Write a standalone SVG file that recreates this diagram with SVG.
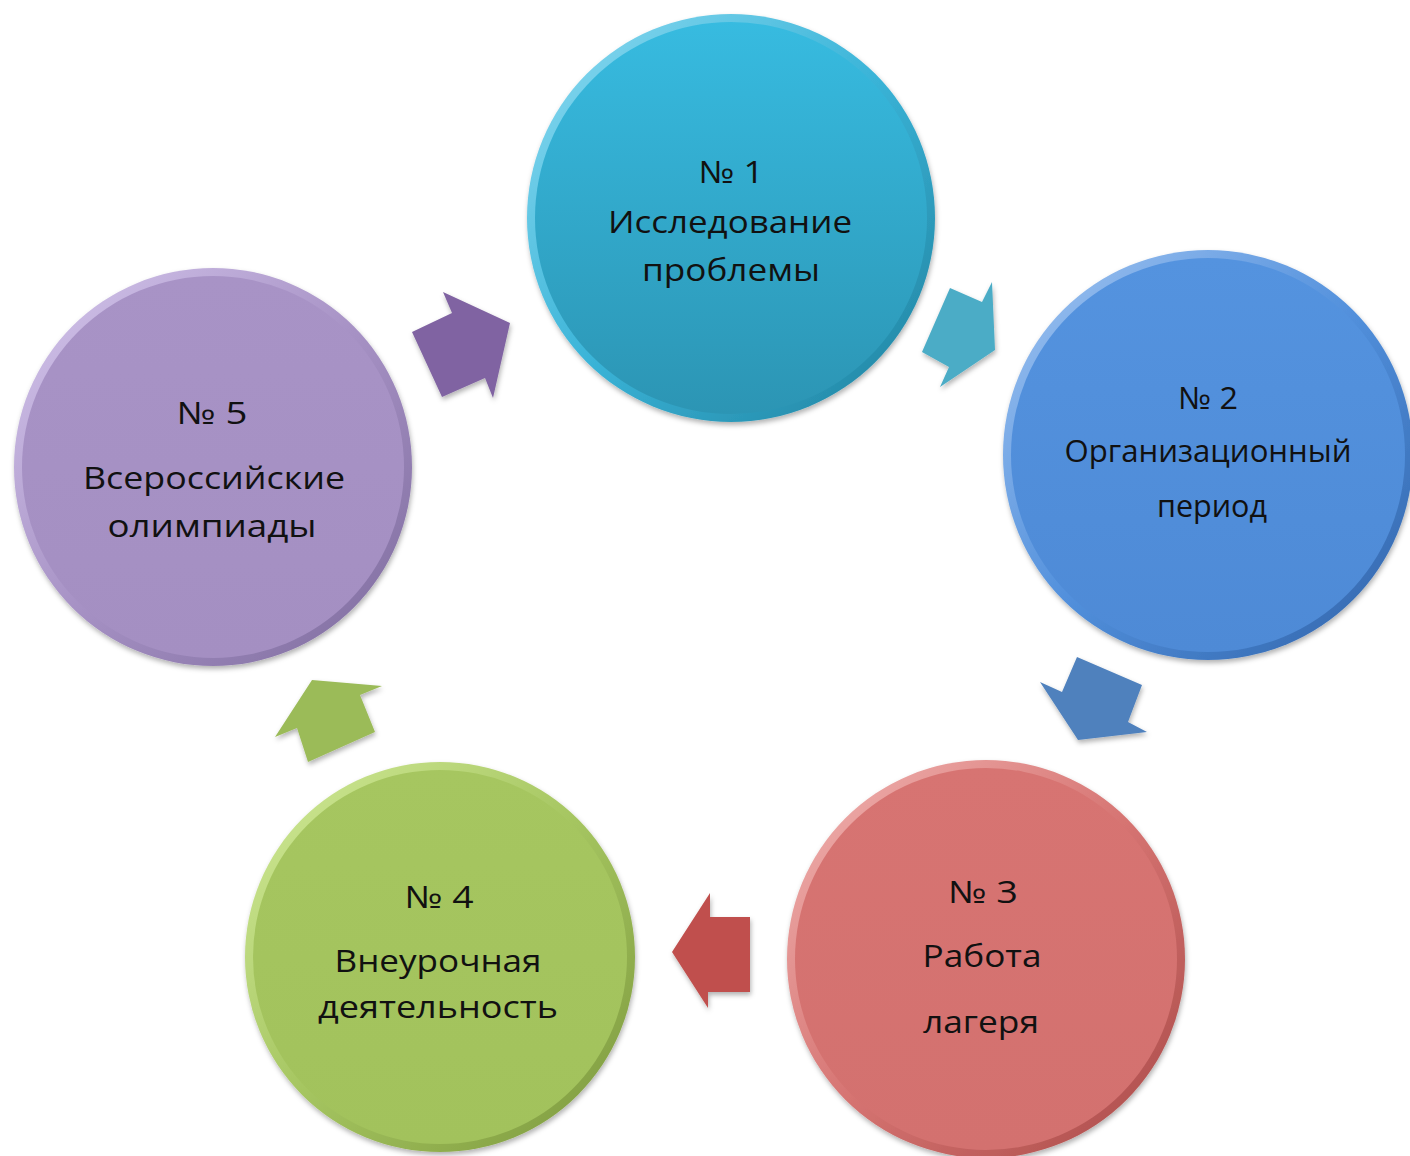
<svg xmlns="http://www.w3.org/2000/svg" width="1410" height="1156" viewBox="0 0 1410 1156">
<style>
.t{font-family:"Open Sans","Noto Sans","Liberation Sans",sans-serif;font-size:31px;fill:#111;text-anchor:middle}
.arr{filter:url(#sh)}
</style>
<defs>
<filter id="sh" x="-20%" y="-20%" width="140%" height="140%">
<feDropShadow dx="1" dy="3" stdDeviation="2.5" flood-color="#000" flood-opacity="0.3"/>
</filter>
<linearGradient id="r1" x1="0" y1="0" x2="1" y2="1"><stop offset="0" stop-color="#8fdcf2"/><stop offset="0.5" stop-color="#3ab4d8"/><stop offset="1" stop-color="#1f7f9c"/></linearGradient>
<linearGradient id="f1" x1="0" y1="0" x2="0" y2="1"><stop offset="0" stop-color="#37bbe0"/><stop offset="1" stop-color="#2c95b4"/></linearGradient>
<linearGradient id="r2" x1="0" y1="0" x2="1" y2="1"><stop offset="0" stop-color="#a3c6f2"/><stop offset="0.5" stop-color="#5290dc"/><stop offset="1" stop-color="#2f62a8"/></linearGradient>
<linearGradient id="f2" x1="0" y1="0" x2="0" y2="1"><stop offset="0" stop-color="#5493df"/><stop offset="1" stop-color="#4e8ad6"/></linearGradient>
<linearGradient id="r3" x1="0" y1="0" x2="1" y2="1"><stop offset="0" stop-color="#f2b6b4"/><stop offset="0.5" stop-color="#d67472"/><stop offset="1" stop-color="#a84946"/></linearGradient>
<linearGradient id="f3" x1="0" y1="0" x2="0" y2="1"><stop offset="0" stop-color="#d77472"/><stop offset="1" stop-color="#d3716f"/></linearGradient>
<linearGradient id="r4" x1="0" y1="0" x2="1" y2="1"><stop offset="0" stop-color="#d3ec9a"/><stop offset="0.5" stop-color="#a5c560"/><stop offset="1" stop-color="#7a963b"/></linearGradient>
<linearGradient id="f4" x1="0" y1="0" x2="0" y2="1"><stop offset="0" stop-color="#a6c660"/><stop offset="1" stop-color="#a2c25c"/></linearGradient>
<linearGradient id="r5" x1="0" y1="0" x2="1" y2="1"><stop offset="0" stop-color="#d6c8ee"/><stop offset="0.5" stop-color="#a792c5"/><stop offset="1" stop-color="#7c6a9c"/></linearGradient>
<linearGradient id="f5" x1="0" y1="0" x2="0" y2="1"><stop offset="0" stop-color="#a893c6"/><stop offset="1" stop-color="#a48fc2"/></linearGradient>
</defs>
<rect width="1410" height="1156" fill="#fff"/>

<g id="connectors">
<polygon class="arr" fill="#8064a2" points="412,332 452,313 443,292 510,323 493,398 485,378 442,397"/>
<polygon class="arr" fill="#4bacc6" points="922,352 950,288 982,302 992,282 995,350 940,387 949,367"/>
<polygon class="arr" fill="#4f81bd" points="1077,657 1142,685 1128,722 1147,732 1078,740 1040,682 1062,692"/>
<polygon class="arr" fill="#c0504d" points="750,917 710,917 710,893 672,952 708,1008 708,992 750,992"/>
<polygon class="arr" fill="#9bbb59" points="312,680 382,686 360,695 375,732 308,762 297,728 275,737"/>
</g>

<g id="node1">
<circle cx="731" cy="218" r="204" fill="url(#r1)" filter="url(#sh)"/>
<circle cx="731" cy="218" r="196" fill="url(#f1)"/>
<text class="t" x="731" y="183" textLength="65" lengthAdjust="spacingAndGlyphs">№ 1</text>
<text class="t" x="730" y="233" textLength="244" lengthAdjust="spacingAndGlyphs">Исследование</text>
<text class="t" x="731" y="281" textLength="178" lengthAdjust="spacingAndGlyphs">проблемы</text>
</g>

<g id="node2">
<circle cx="1208" cy="455" r="205" fill="url(#r2)" filter="url(#sh)"/>
<circle cx="1208" cy="455" r="197" fill="url(#f2)"/>
<text class="t" x="1208" y="409" textLength="60" lengthAdjust="spacingAndGlyphs">№ 2</text>
<text class="t" x="1208" y="462" textLength="287" lengthAdjust="spacingAndGlyphs">Организационный</text>
<text class="t" x="1212" y="517" textLength="110" lengthAdjust="spacingAndGlyphs">период</text>
</g>

<g id="node3">
<circle cx="986" cy="959" r="199" fill="url(#r3)" filter="url(#sh)"/>
<circle cx="986" cy="959" r="191" fill="url(#f3)"/>
<text class="t" x="983" y="903" textLength="70" lengthAdjust="spacingAndGlyphs">№ 3</text>
<text class="t" x="982" y="967" textLength="119" lengthAdjust="spacingAndGlyphs">Работа</text>
<text class="t" x="981" y="1033" textLength="116" lengthAdjust="spacingAndGlyphs">лагеря</text>
</g>

<g id="node4">
<circle cx="440" cy="957" r="195" fill="url(#r4)" filter="url(#sh)"/>
<circle cx="440" cy="957" r="187" fill="url(#f4)"/>
<text class="t" x="439" y="908" textLength="69" lengthAdjust="spacingAndGlyphs">№ 4</text>
<text class="t" x="438" y="972" textLength="207" lengthAdjust="spacingAndGlyphs">Внеурочная</text>
<text class="t" x="438" y="1018" textLength="240" lengthAdjust="spacingAndGlyphs">деятельность</text>
</g>

<g id="node5">
<circle cx="213" cy="467" r="199" fill="url(#r5)" filter="url(#sh)"/>
<circle cx="213" cy="467" r="191" fill="url(#f5)"/>
<text class="t" x="212" y="424" textLength="71" lengthAdjust="spacingAndGlyphs">№ 5</text>
<text class="t" x="214" y="489" textLength="262" lengthAdjust="spacingAndGlyphs">Всероссийские</text>
<text class="t" x="212" y="537" textLength="209" lengthAdjust="spacingAndGlyphs">олимпиады</text>
</g>
</svg>
